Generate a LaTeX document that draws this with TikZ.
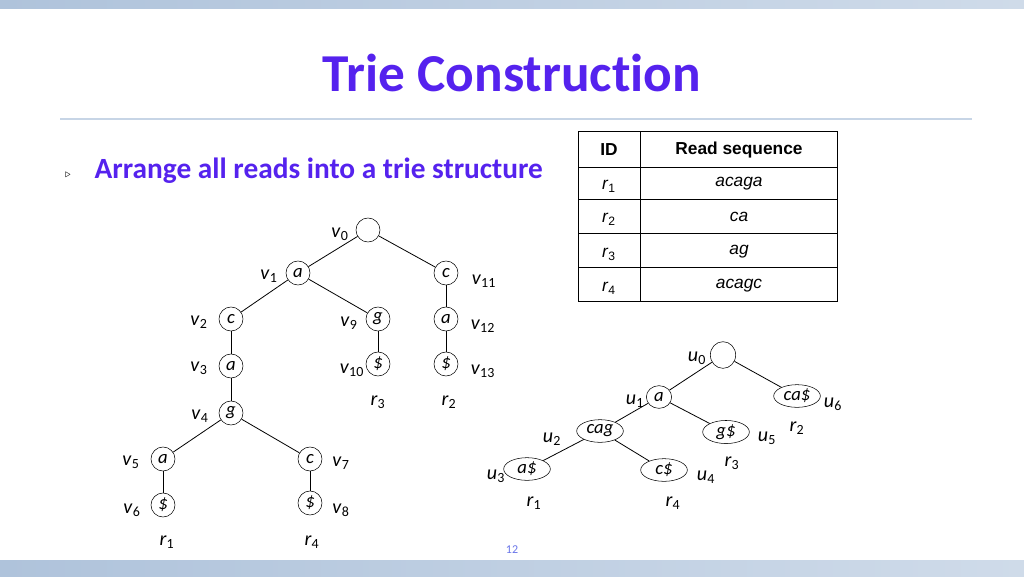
\documentclass[tikz,border=0pt]{standalone}
\usepackage{fontspec}
\setmainfont{Carlito}[Ligatures=NoCommon]
\newfontfamily\tabfont{Liberation Sans}
\usetikzlibrary{shapes.geometric}
\definecolor{ttl}{HTML}{5522EE}
\definecolor{band}{HTML}{AFC3DB}
\newcommand{\lb}[2]{\textit{#1}\textsubscript{#2}}
\begin{document}
\begin{tikzpicture}[x=0.75pt,y=-0.75pt,
  tn/.style={draw,circle,minimum size=18pt,inner sep=0pt,font=\fontsize{14}{14}\selectfont\itshape},
  en/.style={draw,ellipse,minimum height=17pt,inner sep=0.5pt,font=\fontsize{14}{14}\selectfont\itshape},
  lab/.style={font=\fontsize{15}{15}\selectfont,inner sep=0pt},
  ed/.style={line width=0.6pt},
  cell/.style={font=\tabfont\fontsize{13}{13}\selectfont}]
\useasboundingbox (0,0) rectangle (1024,576);
\fill[white] (0,0) rectangle (1024,576);
\shade[left color=band,right color=band!60!white] (0,0) rectangle (1024,8);
\shade[left color=band,right color=band!60!white] (0,560) rectangle (1024,576);
\draw[band!70!white,line width=0.8pt] (60,119) -- (972,119);
\node[font=\fontsize{40}{40}\selectfont\bfseries,text=ttl] (title) at (512,73) {Trie Construction};
\node[font=\fontsize{8}{8}\selectfont] (bul) at (68,175) {$\triangleright$};
\node[font=\fontsize{22}{22}\selectfont\bfseries,text=ttl,anchor=west] (txt) at (90,171) {Arrange all reads into a trie structure};
% table
\draw (578,131) rectangle (837,301);
\draw (640,131) -- (640,301);
\foreach \y in {167,199,233,267} \draw (578,\y) -- (837,\y);
\node[cell,font=\tabfont\bfseries\fontsize{13}{13}\selectfont] (h1) at (609,150) {ID};
\node[cell,font=\tabfont\bfseries\fontsize{13}{13}\selectfont] (h2) at (739,150) {Read sequence};
\node[cell] (i1) at (609,186) {\textit{r}\textsubscript{1}};
\node[cell] (i2) at (609,219) {\textit{r}\textsubscript{2}};
\node[cell] (i3) at (609,254) {\textit{r}\textsubscript{3}};
\node[cell] (i4) at (609,288) {\textit{r}\textsubscript{4}};
\node[cell] (s1) at (739,184) {\itshape acaga};
\node[cell] (s2) at (739,217) {\itshape ca};
\node[cell] (s3) at (739,252) {\itshape ag};
\node[cell] (s4) at (739,286) {\itshape acagc};
% left trie
\node[tn] (v0) at (368,230) {};
\node[tn] (v1) at (298,273) {a};
\node[tn] (v11) at (446,273) {c};
\node[tn] (v2) at (231,319) {c};
\node[tn] (v9) at (378,319) {g};
\node[tn] (v12) at (446,319) {a};
\node[tn] (v3) at (231,366) {a};
\node[tn] (v10) at (378,364) {\$};
\node[tn] (v13) at (446,364) {\$};
\node[tn] (v4) at (231,413) {g};
\node[tn] (v5) at (163,459) {a};
\node[tn] (v7) at (310,459) {c};
\node[tn] (v6) at (163,505) {\$};
\node[tn] (v8) at (310,503) {\$};
\foreach \a/\b in {v0/v1,v0/v11,v1/v2,v1/v9,v11/v12,v12/v13,v2/v3,v3/v4,v9/v10,v4/v5,v4/v7,v5/v6,v7/v8}
  \draw[ed] (\a) -- (\b);
\node[lab] (lv0) at (340,234) {\lb{v}{0}};
\node[lab] (lv1) at (269,276) {\lb{v}{1}};
\node[lab] (lv11) at (484,281) {\lb{v}{11}};
\node[lab] (lv2) at (199,322) {\lb{v}{2}};
\node[lab] (lv9) at (349,323) {\lb{v}{9}};
\node[lab] (lv12) at (483,326) {\lb{v}{12}};
\node[lab] (lv3) at (199,368) {\lb{v}{3}};
\node[lab] (lv10) at (352,370) {\lb{v}{10}};
\node[lab] (lv13) at (483,371) {\lb{v}{13}};
\node[lab] (lv4) at (200,416) {\lb{v}{4}};
\node[lab] (lv5) at (131,462) {\lb{v}{5}};
\node[lab] (lv7) at (341,463) {\lb{v}{7}};
\node[lab] (lv6) at (132,510) {\lb{v}{6}};
\node[lab] (lv8) at (341,510) {\lb{v}{8}};
\node[lab] (lr3) at (378,402) {\lb{r}{3}};
\node[lab] (lr2) at (449,402) {\lb{r}{2}};
\node[lab] (lr1) at (167,542) {\lb{r}{1}};
\node[lab] (lr4) at (312,542) {\lb{r}{4}};
% right compressed trie
\node[tn,ellipse,minimum width=19pt,minimum height=20pt] (u0) at (723,355) {};
\node[en,minimum width=19pt] (u1) at (659,397) {a};
\node[en,minimum width=35pt] (u6) at (797,396) {ca\$};
\node[en,minimum width=35pt] (u2) at (600,431) {cag};
\node[en,minimum width=35pt] (u5) at (726,432) {g\$};
\node[en,minimum width=35pt] (u3) at (527,469) {a\$};
\node[en,minimum width=35pt] (u4) at (664,470) {c\$};
\foreach \a/\b in {u0/u1,u0/u6,u1/u2,u1/u5,u2/u3,u2/u4}
  \draw[ed] (\a) -- (\b);
\node[lab] (lu0) at (697,358) {\lb{u}{0}};
\node[lab] (lu1) at (635,401) {\lb{u}{1}};
\node[lab] (lu6) at (833,404) {\lb{u}{6}};
\node[lab] (lu2) at (552,439) {\lb{u}{2}};
\node[lab] (lu5) at (767,438) {\lb{u}{5}};
\node[lab] (lu3) at (496,476) {\lb{u}{3}};
\node[lab] (lu4) at (706,477) {\lb{u}{4}};
\node[lab] (lru2) at (797,428) {\lb{r}{2}};
\node[lab] (lru3) at (732,463) {\lb{r}{3}};
\node[lab] (lru1) at (534,503) {\lb{r}{1}};
\node[lab] (lru4) at (673,503) {\lb{r}{4}};
\node[font=\fontsize{9}{9}\selectfont,text=band!60!blue] (pg) at (512,550) {12};
\end{tikzpicture}
\end{document}
